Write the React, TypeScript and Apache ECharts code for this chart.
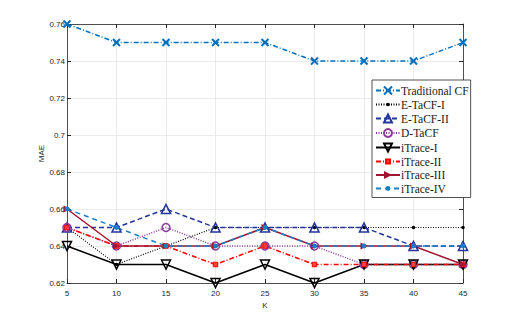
import React, { useEffect, useRef } from "react";
import * as echarts from "echarts";

const K = [5, 10, 15, 20, 25, 30, 35, 40, 45];
const seriesNames = ["Traditional CF", "E-TaCF-I", "E-TaCF-II", "D-TaCF", "iTrace-I", "iTrace-II", "iTrace-III", "iTrace-IV"];
const traditionalCF = [0.76, 0.75, 0.75, 0.75, 0.75, 0.74, 0.74, 0.74, 0.75];
const eTaCF1 = [0.65, 0.63, 0.64, 0.65, 0.65, 0.65, 0.65, 0.65, 0.65];
const eTaCF2 = [0.65, 0.65, 0.66, 0.65, 0.65, 0.65, 0.65, 0.64, 0.64];
const dTaCF = [0.65, 0.64, 0.65, 0.64, 0.64, 0.64, 0.63, 0.63, 0.63];
const iTrace1 = [0.64, 0.63, 0.63, 0.62, 0.63, 0.62, 0.63, 0.63, 0.63];
const iTrace2 = [0.65, 0.64, 0.64, 0.63, 0.64, 0.63, 0.63, 0.63, 0.63];
const iTrace3 = [0.66, 0.64, 0.64, 0.64, 0.65, 0.64, 0.64, 0.64, 0.63];
const iTrace4 = [0.66, 0.65, 0.64, 0.64, 0.65, 0.64, 0.64, 0.64, 0.64];
const yTicks = [0.62, 0.64, 0.66, 0.68, 0.7, 0.72, 0.74, 0.76];

const X_PATH = "path://M0,0L10,10M10,0L0,10";
const DOWN_TRI = "path://M0,0L10,0L5,9Z";
const RIGHT_TRI = "path://M0,0L10,5L0,10Z";
const SMALL_DOT = "path://M0,0M10,10M2.8,5a2.2,2.2 0 1,0 4.4,0a2.2,2.2 0 1,0 -4.4,0Z";
const MID_DOT = "path://M0,0M10,10M2,5a3,3 0 1,0 6,0a3,3 0 1,0 -6,0Z";
const SMALL_SQ = "path://M0,0M10,10M2.5,2.5L7.5,2.5L7.5,7.5L2.5,7.5Z";

const axisColor = "#262626";
const sans = "'Liberation Sans', Arial, sans-serif";

export default function App() {
  const ref = useRef<HTMLDivElement>(null);
  useEffect(() => {
    const chart = echarts.init(ref.current!, undefined, { renderer: "svg" });
    const pts = (vals: number[]) => K.map((k, i) => [k, vals[i]]);
    const mk = (
      name: string,
      vals: number[],
      color: string,
      lineType: any,
      width: number,
      symbol: string,
      size: number,
      fill: string,
      border: number
    ) => ({
      name,
      type: "line",
      data: pts(vals),
      symbol,
      symbolSize: size,
      showAllSymbol: true,
      lineStyle: { color, type: lineType, width },
      itemStyle: { color: fill, borderColor: color, borderWidth: border },
      emphasis: { disabled: true },
    });
    const series = [
      mk(seriesNames[0], traditionalCF, "#0072BD", [5, 2, 1, 2], 1.5, X_PATH, 7, "none", 2),
      mk(seriesNames[1], eTaCF1, "#000000", [1, 1.5], 1.2, SMALL_DOT, 8, "#000000", 0),
      mk(seriesNames[2], eTaCF2, "#23349A", [5, 3], 1.5, "triangle", 9, "none", 1.6),
      mk(seriesNames[3], dTaCF, "#8A3A9C", [1, 1.5], 1.5, "circle", 8, "none", 1.5),
      mk(seriesNames[4], iTrace1, "#000000", "solid", 1.5, DOWN_TRI, 9, "none", 1.5),
      mk(seriesNames[5], iTrace2, "#FF0000", [5, 2, 1, 2], 1.5, SMALL_SQ, 9, "#FF4040", 1),
      mk(seriesNames[6], iTrace3, "#A2142F", "solid", 1.5, RIGHT_TRI, 7, "#A2142F", 0),
      mk(seriesNames[7], iTrace4, "#1A7FC6", [5, 4], 1.5, MID_DOT, 8, "#1A7FC6", 0),
    ];
    const axisLabel = { fontFamily: sans, fontSize: 8, color: axisColor };
    chart.setOption({
      animation: false,
      backgroundColor: "#ffffff",
      grid: { left: 67, right: 49, top: 24, bottom: 36, containLabel: false },
      legend: {
        data: seriesNames,
        orient: "vertical",
        left: 372,
        top: 80,
        width: 90,
        itemWidth: 24,
        itemHeight: 10,
        itemGap: 1.5,
        padding: [4, 2, 3, 3],
        backgroundColor: "#ffffff",
        borderColor: axisColor,
        borderWidth: 0.8,
        textStyle: {
          fontFamily: "'Liberation Serif', 'Times New Roman', serif",
          fontSize: 11.5,
          fontWeight: "normal",
          lineHeight: 12,
          color: "#1a1a1a",
          padding: [0, 0, 0, -4],
        },
        selectedMode: false,
      },
      xAxis: [
        {
          type: "value",
          min: 5,
          max: 45,
          interval: 5,
          name: "K",
          nameLocation: "middle",
          nameGap: 18,
          nameMoveOverlap: false,
          nameTextStyle: { fontFamily: sans, fontSize: 8, color: axisColor },
          axisLine: { lineStyle: { color: axisColor, width: 0.8 } },
          axisTick: { inside: true, length: 4, lineStyle: { color: axisColor } },
          axisLabel: { ...axisLabel, margin: 6 },
          splitLine: { show: true, lineStyle: { color: "#e6e6e6", width: 0.8 } },
        },
        {
          type: "value",
          position: "top",
          min: 5,
          max: 45,
          interval: 5,
          axisLine: { show: true, lineStyle: { color: axisColor, width: 0.8 } },
          axisTick: { show: true, inside: true, length: 4, lineStyle: { color: axisColor } },
          axisLabel: { show: false },
          splitLine: { show: false },
        },
      ],
      yAxis: [
        {
          type: "value",
          min: 0.62,
          max: 0.76,
          interval: 0.02,
          name: "MAE",
          nameLocation: "middle",
          nameGap: 22,
          nameMoveOverlap: false,
          nameTextStyle: { fontFamily: sans, fontSize: 8, color: axisColor },
          axisLine: { show: true, lineStyle: { color: axisColor, width: 0.8 } },
          axisTick: { show: true, inside: true, length: 4, lineStyle: { color: axisColor } },
          axisLabel: {
            ...axisLabel,
            margin: 2,
            formatter: (v: number) => {
              const t = yTicks.find((y) => Math.abs(y - v) < 1e-6);
              return t === undefined ? "" : String(+t.toFixed(2));
            },
          },
          splitLine: { show: true, lineStyle: { color: "#e6e6e6", width: 0.8 } },
        },
        {
          type: "value",
          position: "right",
          min: 0.62,
          max: 0.76,
          interval: 0.02,
          axisLine: { show: true, lineStyle: { color: axisColor, width: 0.8 } },
          axisTick: { show: true, inside: true, length: 4, lineStyle: { color: axisColor } },
          axisLabel: { show: false },
          splitLine: { show: false },
        },
      ],
      series,
    });
    return () => chart.dispose();
  }, []);
  return <div ref={ref} style={{ width: 512, height: 319, position: "absolute", left: 0, top: 0 }} />;
}
